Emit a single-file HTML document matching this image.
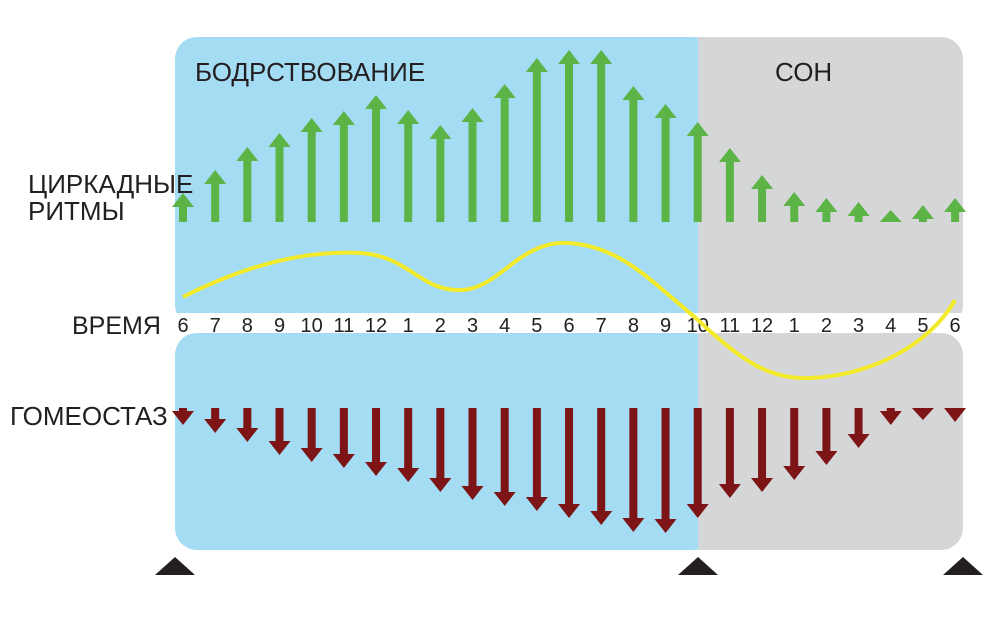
<!DOCTYPE html>
<html><head><meta charset="utf-8"><style>
html,body{margin:0;padding:0;background:#fff;width:1000px;height:626px;overflow:hidden}
svg text{font-family:"Liberation Sans",sans-serif;fill:#231f20}
</style></head><body>
<svg id="s" width="1000" height="626" viewBox="0 0 1000 626" xmlns="http://www.w3.org/2000/svg">
<rect x="175" y="37" width="540" height="290" rx="22" fill="#a3dcf3"/>
<rect x="698" y="37" width="265" height="290" rx="22" fill="#d5d6d8"/>
<rect x="698" y="37" width="30" height="290" fill="#d5d6d8"/>
<rect x="175" y="333" width="540" height="217" rx="22" fill="#a3dcf3"/>
<rect x="698" y="333" width="265" height="217" rx="22" fill="#d5d6d8"/>
<rect x="698" y="333" width="30" height="217" fill="#d5d6d8"/>
<rect x="160" y="313" width="810" height="20" fill="#fff"/>
<text x="195" y="81" font-size="26">БОДРСТВОВАНИЕ</text>
<text x="775" y="81" font-size="26">СОН</text>
<text x="28" y="193" font-size="26">ЦИРКАДНЫЕ</text>
<text x="28" y="220" font-size="26">РИТМЫ</text>
<text x="72" y="334" font-size="25">ВРЕМЯ</text>
<text x="10" y="425" font-size="26">ГОМЕОСТАЗ</text>
<g id="g"></g>
<path d="M183,297 C240,268 300,250 360,253 C410,256 420,292 462,290 C500,288 520,240 568,243 C620,246 650,280 698,320 C740,360 770,380 810,378 C870,376 930,345 955,300" fill="none" stroke="#f3ea2a" stroke-width="4"/>
<polygon points="155,575 175,557 195,575" fill="#231f20"/>
<polygon points="678,575 698,557 718,575" fill="#231f20"/>
<polygon points="943,575 963,557 983,575" fill="#231f20"/>
</svg>
<script>
var labels=[6,7,8,9,10,11,12,1,2,3,4,5,6,7,8,9,10,11,12,1,2,3,4,5,6];
var gt=[193,170,147,133,118,111,95,110,125,108,84,58,50,50,86,104,122,148,175,192,198,202,210,205,198];
var rb=[425,433,442,455,462,468,476,482,492,500,506,511,518,525,532,533,518,498,492,480,465,448,425,420,422];
var h='';
for(var i=0;i<25;i++){
 var x=183+i*32.17;
 h+='<text x="'+x+'" y="332" font-size="20" text-anchor="middle">'+labels[i]+'</text>';
 var t=gt[i],b=222,hh=Math.min(14,b-t);
 h+='<polygon fill="#5db446" points="'+(x-4)+','+b+' '+(x-4)+','+(t+hh)+' '+(x-11)+','+(t+hh)+' '+x+','+t+' '+(x+11)+','+(t+hh)+' '+(x+4)+','+(t+hh)+' '+(x+4)+','+b+'"/>';
 var tp=408,bt=rb[i],rh=Math.min(14,bt-tp);
 h+='<polygon fill="#7d1416" points="'+(x-4)+','+tp+' '+(x-4)+','+(bt-rh)+' '+(x-11)+','+(bt-rh)+' '+x+','+bt+' '+(x+11)+','+(bt-rh)+' '+(x+4)+','+(bt-rh)+' '+(x+4)+','+tp+'"/>';
}
document.getElementById('g').innerHTML=h;
</script>
</body></html>
